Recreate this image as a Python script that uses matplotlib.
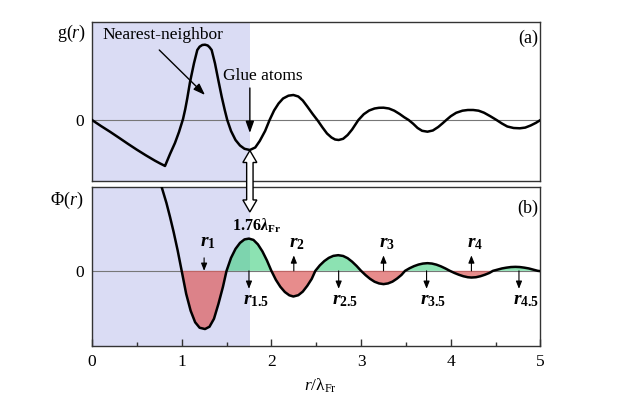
import matplotlib
matplotlib.use("Agg")
import numpy as np
import matplotlib.pyplot as plt
from matplotlib.patches import Polygon
from matplotlib.transforms import IdentityTransform

plt.rcParams['font.family'] = ['Liberation Serif', 'DejaVu Serif']
plt.rcParams['mathtext.fontset'] = 'custom'
plt.rcParams['mathtext.rm'] = 'Liberation Serif'
plt.rcParams['mathtext.it'] = 'Liberation Serif:italic'
plt.rcParams['mathtext.bf'] = 'Liberation Serif:bold'
plt.rcParams['mathtext.bfit'] = 'Liberation Serif:italic:bold'

# panel (a): g(r), arbitrary units
g_r = [0, 0.1, 0.2, 0.3, 0.4, 0.5, 0.6, 0.7, 0.76, 0.8, 0.814, 0.87, 0.925, 0.97,
       1.015, 1.04, 1.062, 1.093, 1.137, 1.174, 1.2, 1.23, 1.26, 1.29, 1.31, 1.334,
       1.371, 1.408, 1.446, 1.48, 1.508, 1.55, 1.6, 1.65, 1.7, 1.76, 1.82, 1.87,
       1.93, 1.98, 2.03, 2.08, 2.13, 2.19, 2.245, 2.3, 2.35, 2.4, 2.46, 2.52, 2.57,
       2.62, 2.67, 2.71, 2.75, 2.8, 2.85, 2.9, 2.97, 3.03, 3.09, 3.15, 3.2, 3.25,
       3.31, 3.37, 3.43, 3.48, 3.53, 3.58, 3.63, 3.68, 3.74, 3.8, 3.86, 3.91, 3.95,
       4.0, 4.06, 4.13, 4.19, 4.25, 4.31, 4.37, 4.44, 4.51, 4.57, 4.63, 4.7, 4.77,
       4.83, 4.89, 4.95, 5.0]
g_val = [0, -6, -11.7, -17.7, -23.8, -29.7, -35.3, -40.6, -43.5, -45.3, -46, -34,
         -23, -12, 1, 11, 21.5, 38, 56.7, 70, 73.3, 75, 75.3, 74.5, 72.8, 70, 56.7,
         40, 23.3, 10, 0, -11, -20, -25.5, -28.8, -30, -27.5, -21, -11, 0, 9.5, 16.5,
         21.5, 24.3, 25, 23.5, 19.5, 13.5, 6, -1, -7.5, -13.5, -17.5, -19.5, -20,
         -18.8, -15, -9.5, 0, 5.8, 9.5, 11.5, 12.2, 12.3, 11.5, 9.3, 6, 2.8, 0, -3.7,
         -8, -10.8, -11.7, -10.5, -7, -3.2, 0, 3.8, 7.2, 9.3, 10, 10, 9.3, 7.3, 3.8,
         0, -3.5, -6.5, -8, -8.3, -7.6, -5.5, -2.8, 0]

# panel (b): pair potential Phi(r)
phi_r = [0.74, 0.78, 0.83, 0.87, 0.91, 0.955, 1.0, 1.05, 1.1, 1.15, 1.2, 1.26, 1.31,
         1.36, 1.41, 1.46, 1.5, 1.55, 1.6, 1.65, 1.7, 1.75, 1.8, 1.85, 1.9, 1.95, 2.0,
         2.05, 2.1, 2.15, 2.2, 2.245, 2.3, 2.35, 2.4, 2.45, 2.49, 2.54, 2.59, 2.64,
         2.69, 2.745, 2.8, 2.85, 2.9, 2.95, 3.0, 3.05, 3.1, 3.15, 3.2, 3.25, 3.3,
         3.35, 3.4, 3.45, 3.49, 3.54, 3.59, 3.64, 3.69, 3.74, 3.79, 3.84, 3.89, 3.94,
         3.99, 4.04, 4.09, 4.14, 4.19, 4.23, 4.28, 4.33, 4.38, 4.43, 4.47, 4.52, 4.57,
         4.62, 4.67, 4.72, 4.77, 4.82, 4.87, 4.92, 4.97, 5.0]
phi_val = [97, 83, 68, 54, 39, 20.5, 0, -23, -40, -51.5, -57, -58.3, -56, -48, -33,
           -16, 0, 13, 22, 28, 31.5, 32.3, 31, 26.5, 19.5, 10.5, 0, -9, -16, -21.2,
           -24.5, -25.7, -24.4, -20.8, -15, -8, 0, 5.5, 9.8, 13, 15, 15.7, 14.9, 12.7,
           9.2, 4.9, 0, -4.3, -8, -10.9, -12.6, -13.3, -12.6, -10.8, -7.8, -4.1, 0,
           2.6, 4.7, 6.3, 7.3, 7.7, 7.3, 6.2, 4.5, 2.4, 0, -2.1, -3.9, -5.4, -6.4, -6.7,
           -6.4, -5.4, -3.9, -2.1, 0, 1.2, 2.4, 3.2, 3.8, 4.0, 3.8, 3.2, 2.4, 1.2, 0, -0.3]

r_glue = 1.76
shell_r = [1.25, 1.75, 2.25, 2.75, 3.25, 3.73, 4.23, 4.76]
shell_names = ['1', '1.5', '2', '2.5', '3', '3.5', '4', '4.5']

g_r, g_val = np.array(g_r), np.array(g_val)
phi_r, phi_val = np.array(phi_r), np.array(phi_val)

shade = '#dadcf4'
edge = '#333333'

fig = plt.figure(figsize=(6.41, 3.97), dpi=100)
ax1 = fig.add_axes([0.1435, 0.5441, 0.6997, 0.4005])
ax2 = fig.add_axes([0.1435, 0.1292, 0.6997, 0.3990])

for ax in (ax1, ax2):
    ax.set_xlim(0, 5)
    ax.axvspan(0, r_glue, color=shade, lw=0, zorder=0)
    ax.axhline(0, color='#777777', lw=0.8, zorder=1)
    ax.set_yticks([0])
    ax.set_yticklabels(['0'])
    ax.tick_params(axis='y', length=0, pad=6, labelsize=12.5)
    for s in ax.spines.values():
        s.set_color(edge)
        s.set_linewidth(1.0)

ax1.set_ylim(-61, 98)
ax2.set_ylim(-75, 83.7)

# (a)
ax1.plot(g_r, g_val, color='black', lw=1.8, zorder=3)
ax1.set_xticks([])
ax1.text(-0.06, 87, 'g($r$)', fontsize=13, ha='right', va='center')
ax1.text(4.97, 82, '(a)', fontsize=13, ha='right', va='center')
ax1.text(0.12, 85, 'Nearest-neighbor', fontsize=12.5, ha='left', va='center')
ax1.annotate('', xy=(1.26, 25), xytext=(0.75, 70),
             arrowprops=dict(arrowstyle='-|>,head_length=0.7,head_width=0.25',
                             lw=1.0, color='black', shrinkA=0, shrinkB=0))
ax1.text(1.46, 44, 'Glue atoms', fontsize=12.5, ha='left', va='center')
ax1.annotate('', xy=(r_glue, -13), xytext=(r_glue, 32),
             arrowprops=dict(arrowstyle='-|>,head_length=0.7,head_width=0.25',
                             lw=1.0, color='black', shrinkA=0, shrinkB=0))

# (b)
ax2.plot(phi_r, phi_val, color='black', lw=1.8, zorder=3)
ax2.fill_between(phi_r, phi_val, 0, where=phi_val <= 0, interpolate=True,
                 color='#dd5c5c', alpha=0.7, lw=0, zorder=2)
ax2.fill_between(phi_r, phi_val, 0, where=(phi_val >= 0) & (phi_r > 1.2),
                 interpolate=True, color='#3fcf80', alpha=0.6, lw=0, zorder=2)
ax2.text(-0.1, 70.7, 'Φ($r$)', fontsize=13, ha='right', va='center')
ax2.text(4.97, 62.7, '(b)', fontsize=13, ha='right', va='center')
ax2.text(1.83, 45.5, r'$\mathbf{1.76}\mathbfit{λ}_{\mathbf{Fr}}$', fontsize=11.5,
         ha='center', va='center')

small_arrow = dict(arrowstyle='-|>,head_length=0.45,head_width=0.18', lw=0.8,
                   color='black', shrinkA=0, shrinkB=0)
for x, name in zip(shell_r, shell_names):
    label = r'$\mathbfit{r}_{\mathbf{%s}}$' % name
    if name == '1':
        ax2.annotate('', xy=(x, 0), xytext=(x, 13), arrowprops=small_arrow)
        ax2.text(x - 0.05, 28, label, fontsize=14, ha='left', va='center')
    elif '.' in name:
        ax2.annotate('', xy=(x, -18), xytext=(x, 0), arrowprops=small_arrow)
        ax2.text(x - 0.07, -30, label, fontsize=14, ha='left', va='center')
    else:
        ax2.annotate('', xy=(x, 15.5), xytext=(x, 0), arrowprops=small_arrow)
        ax2.text(x - 0.05, 27, label, fontsize=14, ha='left', va='center')

ax2.set_xticks([0, 1, 2, 3, 4, 5])
ax2.set_xticks([0.5, 1.5, 2.5, 3.5, 4.5], minor=True)
ax2.tick_params(axis='x', which='major', direction='in', length=5, width=1,
                color=edge, pad=6, labelsize=12.5)
ax2.tick_params(axis='x', which='minor', direction='in', length=3, width=1,
                color=edge)
ax2.text(0.51, -0.25, '$r$/λ$_{\\mathrm{Fr}}$', transform=ax2.transAxes,
         fontsize=12.5, ha='center', va='center')

# hollow double arrow linking the g(r) minimum to the Phi(r) maximum
x0, y_top = ax1.transData.transform((r_glue, -30.5))
_, y_bot = ax2.transData.transform((r_glue, 59))
hl, hw, sw = 12, 7, 3.2
verts = [(x0, y_top), (x0 + hw, y_top - hl), (x0 + sw, y_top - hl),
         (x0 + sw, y_bot + hl), (x0 + hw, y_bot + hl), (x0, y_bot),
         (x0 - hw, y_bot + hl), (x0 - sw, y_bot + hl), (x0 - sw, y_top - hl),
         (x0 - hw, y_top - hl)]
fig.add_artist(Polygon(verts, closed=True, fc='white', ec='black', lw=1.0,
                       transform=IdentityTransform(), zorder=10))

fig.savefig('out.png', dpi=100)
